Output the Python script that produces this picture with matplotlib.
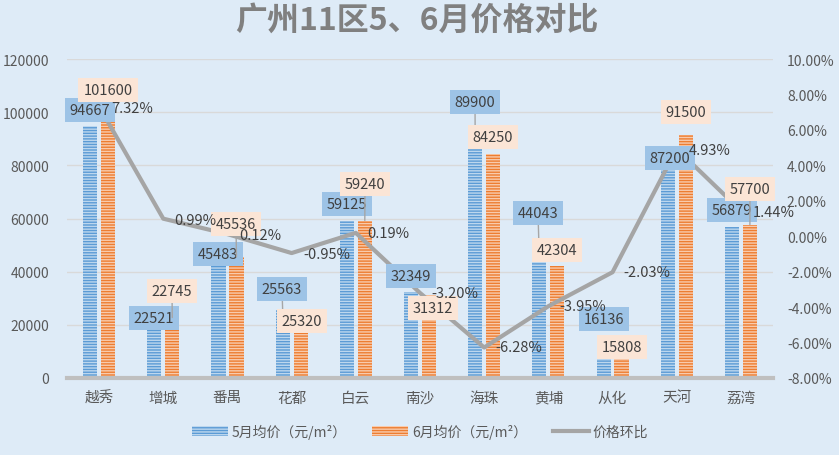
import matplotlib
matplotlib.use("Agg")
import matplotlib.pyplot as plt
import numpy as np

plt.rcParams['font.family'] = ['Noto Sans CJK SC', 'DejaVu Sans']
plt.rcParams['hatch.linewidth'] = 1.0

districts = ['越秀', '增城', '番禺', '花都', '白云', '南沙', '海珠', '黄埔', '从化', '天河', '荔湾']
may_price = [94667, 22521, 45483, 25563, 59125, 32349, 89900, 44043, 16136, 87200, 56879]
jun_price = [101600, 22745, 45536, 25320, 59240, 31312, 84250, 42304, 15808, 91500, 57700]
mom_pct = [7.32, 0.99, 0.12, -0.95, 0.19, -3.20, -6.28, -3.95, -2.03, 4.93, 1.44]

# label positions (figure pixels from top-left), styling only
may_lbl_pos = [(90, 111), (154, 319), (218, 255), (282, 290), (347, 205), (411, 277),
               (475, 103), (538, 214), (604, 320), (670, 159), (732, 211)]
jun_lbl_pos = [(108, 91), (172, 292), (236, 225), (302, 322), (365, 185), (433, 309),
               (493, 138), (557, 251), (622, 348), (686, 113), (750, 190)]
pct_lbl_pos = [(132, 109), (195, 221), (260, 236), (327, 255), (388, 234), (455, 294),
               (519, 348), (583, 307), (647, 273), (710, 151), (774, 213)]
may_leader = [False, False, False, True, False, False, True, True, False, False, False]
jun_leader = [False, True, True, False, True, False, False, False, False, False, True]

W, H = 839, 456
BG = '#DEEBF7'
fig = plt.figure(figsize=(W / 100, H / 100), dpi=100, facecolor=BG)
ax = fig.add_axes([67 / W, 1 - 379 / H, (773 - 67) / W, (379 - 60) / H])
ax.set_facecolor(BG)
ax2 = ax.twinx()

x = np.arange(len(districts))
bw = 0.22
off = 0.14
ax.bar(x - off, may_price, bw, facecolor='#5B9BD5', edgecolor='#BDD7EE', lw=0,
       hatch='------', label='5月均价（元/m²）', zorder=2)
ax.bar(x + off, jun_price, bw, facecolor='#ED7D31', edgecolor='#F8CBAD', lw=0,
       hatch='------', label='6月均价（元/m²）', zorder=2)

ax.set_xlim(-0.5, len(districts) - 0.5)
ax.set_ylim(0, 120000)
ax.set_yticks(np.arange(0, 120001, 20000))
ax.grid(axis='y', color='#D9D9D9', lw=1, zorder=0)
ax.set_axisbelow(True)
for s in ['top', 'right', 'left']:
    ax.spines[s].set_visible(False)
ax.spines['bottom'].set_color('#BFBFBF')
ax.spines['bottom'].set_linewidth(3)
ax.set_xticks(x)
ax.set_xticklabels(districts, fontsize=10.5, color='#595959')
ax.tick_params(axis='x', length=0, pad=9)
ax.tick_params(axis='y', length=0, pad=13, labelsize=10, labelcolor='#595959')

ax2.plot(x, mom_pct, color='#A5A5A5', lw=3, label='价格环比', zorder=3)
ax2.set_ylim(-8, 10)
ax2.set_yticks(np.arange(-8, 10.01, 2))
ax2.set_yticklabels([f'{v:.2f}%' for v in np.arange(-8, 10.01, 2)])
ax2.tick_params(axis='y', length=0, pad=10, labelsize=10, labelcolor='#595959')
for s in ['top', 'right', 'left', 'bottom']:
    ax2.spines[s].set_visible(False)

def px(p):
    return (p[0], H - p[1])

lead = dict(arrowstyle='-', color='#A6A6A6', lw=1, shrinkA=0, shrinkB=0)
for i in range(len(districts)):
    ax2.annotate(str(may_price[i]), xy=(x[i] - off, may_price[i]), xycoords=ax.transData,
                 xytext=px(may_lbl_pos[i]), textcoords='figure pixels',
                 ha='center', va='center', fontsize=10.5, color='#404040',
                 bbox=dict(boxstyle='square,pad=0.35', fc='#9DC3E6', ec='none'),
                 arrowprops=lead if may_leader[i] else None, zorder=5, annotation_clip=False)
    ax2.annotate(str(jun_price[i]), xy=(x[i] + off, jun_price[i]), xycoords=ax.transData,
                 xytext=px(jun_lbl_pos[i]), textcoords='figure pixels',
                 ha='center', va='center', fontsize=10.5, color='#404040',
                 bbox=dict(boxstyle='square,pad=0.35', fc='#FBE5D6', ec='none'),
                 arrowprops=lead if jun_leader[i] else None, zorder=5, annotation_clip=False)
    ax2.annotate(f'{mom_pct[i]:.2f}%', xy=(x[i], mom_pct[i]),
                 xytext=px(pct_lbl_pos[i]), textcoords='figure pixels',
                 ha='center', va='center', fontsize=10.5, color='#404040',
                 zorder=6, annotation_clip=False)

fig.text(417 / W, 1 - 21 / H, '广州11区5、6月价格对比', ha='center', va='center',
         fontsize=23, fontweight='bold', color='#808080')

h1, l1 = ax.get_legend_handles_labels()
h2, l2 = ax2.get_legend_handles_labels()
fig.legend(h1 + h2, l1 + l2, loc='center', bbox_to_anchor=(420 / W, 1 - 432 / H),
           ncol=3, frameon=False, fontsize=10, labelcolor='#595959',
           handlelength=2.6, handletextpad=0.3, columnspacing=1.8)

fig.savefig('out.png', dpi=100, facecolor=BG)
